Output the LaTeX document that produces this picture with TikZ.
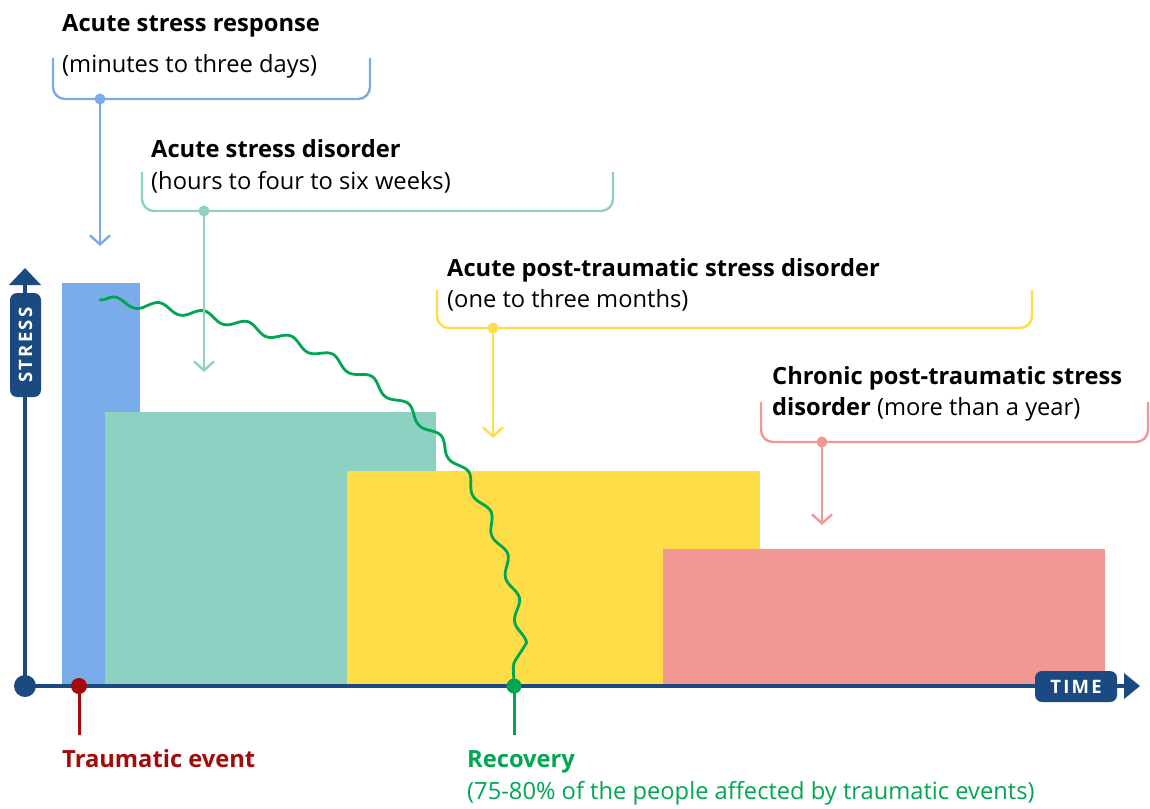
\documentclass[tikz,border=0pt]{standalone}
\usepackage{fontspec}
\setmainfont{Open Sans}
\usetikzlibrary{arrows.meta,decorations.pathmorphing}
\definecolor{navy}{HTML}{1A4A80}
\definecolor{barblue}{HTML}{7AACEB}
\definecolor{barteal}{HTML}{8DD1C3}
\definecolor{baryellow}{HTML}{FEDD48}
\definecolor{barpink}{HTML}{F29793}
\definecolor{recgreen}{HTML}{00A651}
\definecolor{evred}{HTML}{A30B0B}
\newcommand{\txtsize}{\fontsize{23.7}{28}\selectfont}
\tikzset{
  bracket/.style={line width=2.4pt, rounded corners=12pt},
  pointer/.style={line width=2.4pt, -{Straight Barb[length=9pt,width=20pt,line width=2.4pt]}},
  label/.style={anchor=base west, inner sep=0pt, font=\txtsize},
  axis/.style={navy, line width=4.5pt},
  axistag/.style={fill=navy, text=white, rounded corners=7pt, inner sep=0pt,
    font=\fontsize{18.5}{20}\selectfont\bfseries\addfontfeature{LetterSpace=12}},
  dot/.style={circle, inner sep=0pt, minimum size=#1},
  wave/.style={recgreen, line width=2.8pt, line cap=round, line join=round,
    decorate, decoration={snake, segment length=45pt, amplitude=4.5pt}}
}
\begin{document}
\begin{tikzpicture}[x=1pt,y=-1pt]
\useasboundingbox (0,0) rectangle (1150,808);

% stage bars
\fill[barblue]   (62,283)  rectangle (140,686);
\fill[barteal]   (105,412) rectangle (436,686);
\fill[baryellow] (347,471) rectangle (760,686);
\fill[barpink]   (663,549) rectangle (1105,686);

% axes
\coordinate (ytip) at (25,268);
\coordinate (xtip) at (1140,686);
\node[dot=22pt, fill=navy] (origin) at (25,686) {};
\draw[axis, -{Triangle[length=17pt,width=31pt]}] (origin.center) -- (ytip);
\draw[axis, -{Triangle[length=16pt,width=25pt]}] (origin.center) -- (xtip);
\node[axistag, rotate=90, minimum width=104pt, minimum height=31pt] (stress) at (25.5,345) {STRESS};
\node[axistag, minimum width=82pt, minimum height=31pt] (time) at (1076,686.5) {TIME};

% recovery curve
\node[dot=15pt, fill=recgreen] (recdot) at (514,686) {};
\coordinate (wavestart) at (100,300);
\draw[wave] (wavestart) .. controls (300,320) and (505,400) .. (recdot.center);

% traumatic event marker
\node[dot=16pt, fill=evred] (evdot) at (79,686) {};
\coordinate (evend) at (79,735);
\draw[evred, line width=3pt] (evdot.center) -- (evend);
\node[label, text=evred, font=\txtsize\bfseries] (evtxt) at (62,767) {Traumatic event};

% recovery marker
\coordinate (recend) at (514,735);
\draw[recgreen, line width=3pt] (recdot.center) -- (recend);
\node[label, text=recgreen, font=\txtsize\bfseries] (rectxt) at (467,767) {Recovery};
\node[label, text=recgreen] (recsub) at (467,799) {(75-80\% of the people affected by traumatic events)};

% acute stress response
\draw[bracket, barblue] (53,58) |- (200,99) -| (370,58);
\node[dot=11pt, fill=barblue] (b1) at (100,99) {};
\coordinate (b1tip) at (100,246);
\draw[pointer, barblue] (b1.center) -- (b1tip);
\node[label, font=\txtsize\bfseries] (t1) at (62,32) {Acute stress response};
\node[label] (s1) at (62,72) {(minutes to three days)};

% acute stress disorder
\draw[bracket, barteal] (142,172) |- (400,211) -| (613,172);
\node[dot=11pt, fill=barteal] (b2) at (204,211) {};
\coordinate (b2tip) at (204,372);
\draw[pointer, barteal] (b2.center) -- (b2tip);
\node[label, font=\txtsize\bfseries] (t2) at (151,157) {Acute stress disorder};
\node[label] (s2) at (151,189) {(hours to four to six weeks)};

% acute PTSD
\draw[bracket, baryellow] (437,290) |- (700,328) -| (1032,290);
\node[dot=11pt, fill=baryellow] (b3) at (493,328) {};
\coordinate (b3tip) at (493,438);
\draw[pointer, baryellow] (b3.center) -- (b3tip);
\node[label, font=\txtsize\bfseries] (t3) at (447,276) {Acute post-traumatic stress disorder};
\node[label] (s3) at (447,307) {(one to three months)};

% chronic PTSD
\draw[bracket, barpink] (761,402) |- (950,442) -| (1148,402);
\node[dot=11pt, fill=barpink] (b4) at (822,442) {};
\coordinate (b4tip) at (822,525);
\draw[pointer, barpink] (b4.center) -- (b4tip);
\node[label, font=\txtsize\bfseries] (t4) at (772,384) {Chronic post-traumatic stress};
\node[label] (s4) at (772,415) {\textbf{disorder} (more than a year)};
\end{tikzpicture}
\end{document}
